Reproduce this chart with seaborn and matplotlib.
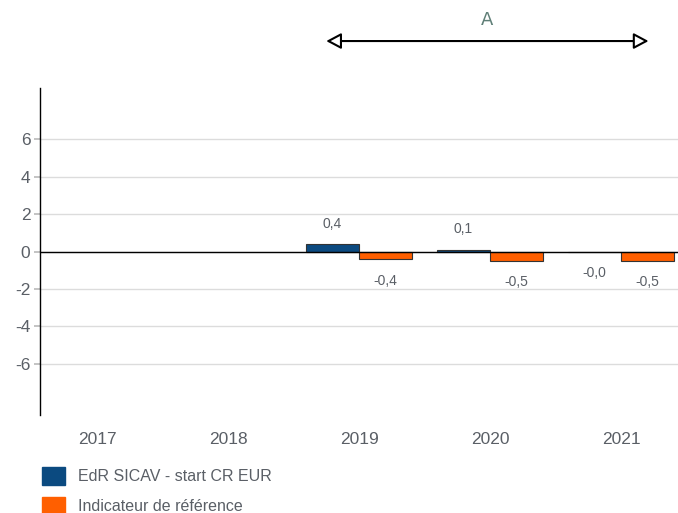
import pandas as pd
import seaborn as sns
import matplotlib.pyplot as plt
from matplotlib.patches import Patch

## Data
years = ["2017", "2018", "2019", "2020", "2021"]
data_years = ["2019", "2020", "2021"]
fund_vals = [0.4, 0.1, -0.02]
index_vals = [-0.4, -0.5, -0.5]
series_names = ["EdR SICAV - start CR EUR", "Indicateur de référence"]
yticks = [-6, -4, -2, 0, 2, 4, 6]
colors = ["#0b4a80", "#ff5f00"]
text_grey = "#5a5f66"

df = pd.DataFrame({
    "Year": data_years * 2,
    "Value": fund_vals + index_vals,
    "Series": [series_names[0]] * 3 + [series_names[1]] * 3,
})

sns.set_theme(style="white")
plt.rcParams["font.family"] = ["Liberation Sans", "DejaVu Sans"]

fig = plt.figure(figsize=(6.78, 5.13), dpi=100)
ax = fig.add_axes([40 / 678, 1 - 415 / 513, 1 - 40 / 678, (415 - 88) / 513])

sns.barplot(
    data=df, x="Year", y="Value", hue="Series", order=years,
    hue_order=series_names, palette=colors, width=0.81, saturation=1,
    edgecolor="#333333", linewidth=0.8, legend=False, ax=ax, zorder=3,
)

ax.set_ylim(-8.75, 8.75)
ax.set_xlim(-0.435, 4.435)
ax.set_yticks(yticks)
ax.set_yticklabels([str(t) for t in yticks])
ax.yaxis.grid(True, color="#dcdcdc", linewidth=1, zorder=0)
ax.axhline(0, color="black", linewidth=1, zorder=4)
for s in ["top", "right", "bottom"]:
    ax.spines[s].set_visible(False)
ax.spines["left"].set_color("black")
ax.spines["left"].set_linewidth(1)
ax.tick_params(axis="y", length=4, color="#bbbbbb", labelsize=12.5,
               labelcolor=text_grey, pad=3, left=True)
ax.tick_params(axis="x", length=0, labelsize=12.5, labelcolor=text_grey, pad=12)
ax.set_xlabel("")
ax.set_ylabel("")

# value labels
for cont in ax.containers:
    for bar in cont:
        h = bar.get_height()
        if pd.isna(h):
            continue
        xc = bar.get_x() + bar.get_width() / 2
        txt = f"{h:.1f}".replace(".", ",")
        if h > 0:
            ax.annotate(txt, (xc, h), xytext=(0, 9.5), textcoords="offset points",
                        ha="center", va="bottom", fontsize=10, color=text_grey)
        else:
            ax.annotate(txt, (xc, h), xytext=(0, -10.5), textcoords="offset points",
                        ha="center", va="top", fontsize=10, color=text_grey)

# period arrow
ax.annotate("", xy=(1.75, 0.920), xytext=(4.21, 0.920),
            xycoords=("data", "figure fraction"),
            textcoords=("data", "figure fraction"),
            arrowprops=dict(arrowstyle="<|-|>,head_length=0.75,head_width=0.4",
                            fc="white", ec="black", lw=1.5, shrinkA=0, shrinkB=0),
            annotation_clip=False)
ax.annotate("A", xy=(2.98, 0.961), xycoords=("data", "figure fraction"),
            ha="center", va="center", fontsize=13, color="#5f7f77",
            family="DejaVu Sans", annotation_clip=False)

handles = [Patch(facecolor=c, edgecolor=c) for c in colors]
fig.legend(handles, series_names, loc="upper left",
           bbox_to_anchor=(36 / 678, 1 - 461 / 513), frameon=False,
           fontsize=11.5, labelcolor=text_grey, handlelength=1.4,
           handleheight=1.3, handletextpad=0.85, labelspacing=0.75,
           borderaxespad=0)

fig.savefig("out.png", dpi=100)
